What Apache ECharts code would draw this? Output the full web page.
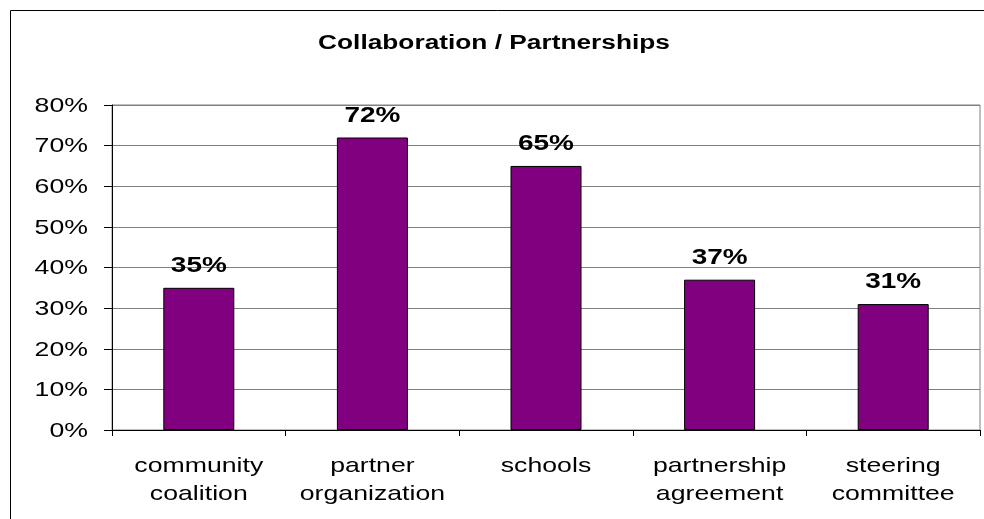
<!DOCTYPE html>
<html>
<head>
<meta charset="utf-8">
<style>
  html, body { margin: 0; padding: 0; background: #fff; }
  #chart { width: 984px; height: 519px; }
</style>
<script src="https://cdn.jsdelivr.net/npm/echarts@6/dist/echarts.min.js"></script>
</head>
<body>
<div id="chart"></div>
<script>
// Survey shares (percent) by kind of collaboration
const categories = ['community\ncoalition', 'partner\norganization', 'schools', 'partnership\nagreement', 'steering\ncommittee'];
const shares = [35, 72, 65, 37, 31];
const yTicks = { min: 0, max: 80, step: 10 };
const titleText = 'Collaboration / Partnerships';

const FONT = '"Liberation Sans", Arial, sans-serif';
// Text in this chart is set in a horizontally widened face.
const X_STRETCH = 1.27;

const chart = echarts.init(document.getElementById('chart'), null, { renderer: 'canvas' });
chart.setOption({
  animation: false,
  backgroundColor: '#ffffff',
  grid: {
    left: 112, right: 4, top: 105, bottom: 89,
    show: true, borderColor: '#808080', borderWidth: 1, backgroundColor: 'transparent'
  },
  xAxis: {
    type: 'category',
    data: categories,
    boundaryGap: true,
    axisLine: { lineStyle: { color: '#000', width: 1 } },
    axisTick: { show: true, length: 6, lineStyle: { color: '#000' } },
    axisLabel: { show: false }
  },
  yAxis: {
    type: 'value',
    min: yTicks.min, max: yTicks.max, interval: yTicks.step,
    axisLine: { show: true, lineStyle: { color: '#000', width: 1 } },
    axisTick: { show: true, length: 8, lineStyle: { color: '#000' } },
    axisLabel: { show: false },
    splitLine: { show: true, lineStyle: { color: '#808080', width: 1 } }
  },
  series: [{
    type: 'bar',
    data: shares,
    barWidth: 71,
    itemStyle: { color: '#800080', borderColor: '#000', borderWidth: 1 },
    label: { show: false }
  }]
});

// Widened text element anchored at (x, y)
function wideText(x, y, text, opts) {
  return {
    type: 'text',
    x: x, y: y,
    scaleX: X_STRETCH,
    silent: true,
    style: {
      x: 0, y: 0,
      text: text,
      fill: '#000',
      font: (opts.bold ? 'bold ' : '') + opts.size + 'px ' + FONT,
      align: opts.align || 'center',
      verticalAlign: opts.verticalAlign || 'middle',
      lineHeight: opts.lineHeight
    }
  };
}

const texts = [];
// outer frame
texts.push({
  type: 'rect',
  shape: { x: 10.5, y: 10.5, width: 1000, height: 600 },
  style: { fill: null, stroke: '#000', lineWidth: 1 },
  silent: true
});
// title
texts.push(wideText(494, 43, titleText, { size: 20.7, bold: true }));
// value axis labels
for (let v = yTicks.min; v <= yTicks.max; v += yTicks.step) {
  const py = chart.convertToPixel({ yAxisIndex: 0 }, v);
  texts.push(wideText(88, py + 1, v + '%', { size: 21, align: 'right' }));
}
// category labels
categories.forEach(function (c, i) {
  const px = chart.convertToPixel({ xAxisIndex: 0 }, i);
  texts.push(wideText(px, 452, c, { size: 21, verticalAlign: 'top', lineHeight: 28 }));
});
// value labels above bars
shares.forEach(function (v, i) {
  const p = chart.convertToPixel({ gridIndex: 0 }, [i, v]);
  texts.push(wideText(p[0], p[1] - 11, v + '%', { size: 22, bold: true, verticalAlign: 'bottom' }));
});

chart.setOption({ graphic: texts });
</script>
</body>
</html>
